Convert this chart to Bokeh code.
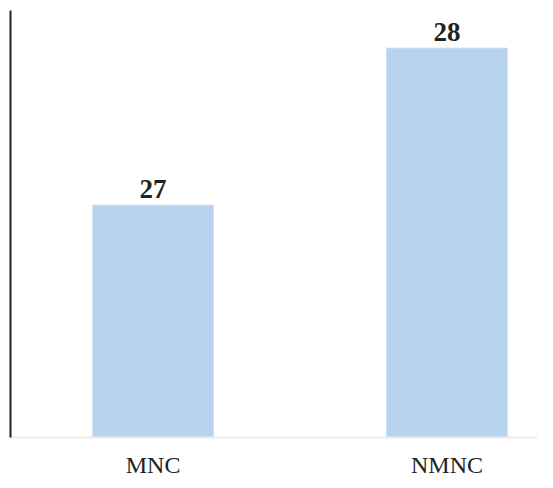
from bokeh.plotting import figure
from bokeh.models import ColumnDataSource, Range1d, FixedTicker, LabelSet
from bokeh.embed import file_html
from bokeh.resources import INLINE

categories = ["MNC", "NMNC"]
values = [27, 28]
y_start = 25.52

xs = list(range(len(categories)))
src = ColumnDataSource(dict(x=xs, top=values, bottom=[y_start] * len(values),
                            label=[str(v) for v in values]))

p = figure(width=537, height=480, output_backend="svg", toolbar_location=None,
           x_range=Range1d(-0.485, 1.308), y_range=Range1d(y_start, 28.24),
           min_border_left=10, min_border_right=0, min_border_top=10, min_border_bottom=20)

p.vbar(x="x", top="top", bottom="bottom", width=0.41, source=src,
       fill_color="#b7d3ed", line_color="#c4dbf0", line_width=1)

labels = LabelSet(x="x", y="top", text="label", source=src, text_align="center",
                  text_baseline="alphabetic", y_offset=7, text_font="Liberation Serif",
                  text_font_size="27px", text_font_style="bold", text_color="#222222")
p.add_layout(labels)

p.xgrid.visible = False
p.ygrid.visible = False
p.outline_line_color = None

p.xaxis.ticker = FixedTicker(ticks=xs)
p.xaxis.major_label_overrides = {i: c for i, c in enumerate(categories)}
p.xaxis.axis_line_color = "#ececec"
p.xaxis.axis_line_width = 2
p.xaxis.major_tick_line_color = None
p.xaxis.minor_tick_line_color = None
p.xaxis.major_label_standoff = 8
p.xaxis.major_label_text_font = "Liberation Serif"
p.xaxis.major_label_text_font_size = "24px"
p.xaxis.major_label_text_color = "#222222"

p.yaxis.axis_line_color = "#222222"
p.yaxis.axis_line_width = 2
p.yaxis.major_tick_line_color = None
p.yaxis.minor_tick_line_color = None
p.yaxis.major_label_text_font_size = "0px"
p.yaxis.major_label_text_color = None

open("out.html", "w").write(file_html(p, INLINE))
